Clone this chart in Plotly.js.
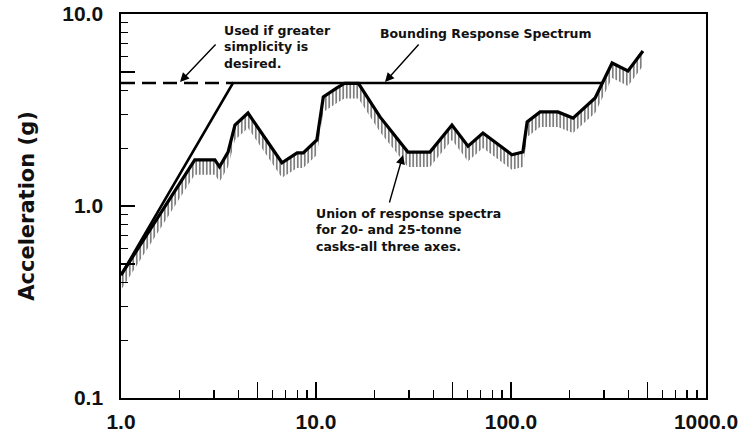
<!DOCTYPE html>
<html>
<head>
<meta charset="utf-8">
<script src="https://cdn.plot.ly/plotly-3.0.1.min.js"></script>
<style>html,body{margin:0;padding:0;background:#fff;}#chart{width:748px;height:436px;}</style>
</head>
<body>
<div id="chart"></div>
<script>
// Union of response spectra (frequency, acceleration g)
const unionFreq = [1, 2.39, 3.03, 3.2, 3.54, 3.84, 4.48, 6.69, 8.0, 8.6, 10.1, 10.9, 12.8, 14.0, 16.5, 21.3, 29.6, 38.4, 49.8, 60.2, 71.8, 101, 115, 121, 141, 174, 208, 270, 330, 398, 475];
const unionAcc  = [0.437, 1.74, 1.74, 1.6, 1.91, 2.64, 3.05, 1.68, 1.89, 1.89, 2.21, 3.70, 4.12, 4.35, 4.35, 2.91, 1.91, 1.91, 2.64, 2.05, 2.40, 1.85, 1.91, 2.74, 3.09, 3.09, 2.87, 3.65, 5.56, 5.05, 6.41];
// Bounding response spectrum
const boundFreq = [1, 3.75, 296];
const boundAcc  = [0.437, 4.37, 4.37];
// Simplified bound (dashed)
const simpleFreq = [1, 3.75];
const simpleAcc  = [4.37, 4.37];
// Axis tick labels
const xMajor = [1, 5, 10, 50, 100, 500, 1000];
const xMajorText = ['1.0', '', '10.0', '', '100.0', '', '1000.0'];
const yMajor = [0.1, 0.5, 1, 5, 10];
const yMajorText = ['0.1', '', '1.0', '', '10.0'];

// plot-area geometry helpers (pixel -> log axis coordinate for annotations)
const L = 121, R = 706, T = 14, B = 398;
const px2x = p => 3 * (p - L) / (R - L);
const py2y = p => -1 + 2 * (B - p) / (B - T);

function minorVals(lo, hi, skip) {
  const out = [];
  for (let d = lo; d < hi; d *= 10) {
    for (let k = 2; k <= 9; k++) if (!skip.includes(k)) out.push(k * d);
  }
  return out;
}

const hatchDepth = Math.pow(10, -15 / 192);
const hatchLow = unionAcc.map(v => v * hatchDepth);
const pad = '\u00a0\u00a0';

const traces = [
  {x: unionFreq, y: hatchLow, mode: 'lines', line: {width: 0, color: 'rgba(0,0,0,0)'}, hoverinfo: 'skip', showlegend: false},
  {x: unionFreq, y: unionAcc, mode: 'lines', fill: 'tonexty', fillcolor: 'rgba(0,0,0,0)',
   fillpattern: {shape: '|', fgcolor: '#666', bgcolor: 'rgba(255,255,255,0)', size: 3.5, solidity: 0.42},
   line: {color: '#000', width: 3.2}, showlegend: false},
  {x: boundFreq, y: boundAcc, mode: 'lines', line: {color: '#000', width: 2.6}, showlegend: false},
  {x: simpleFreq, y: simpleAcc, mode: 'lines', line: {color: '#000', width: 2.6, dash: '14px,7px'}, showlegend: false}
];

const tf = {family: 'DejaVu Sans, sans-serif', size: 12.5, color: '#111', weight: 'bold'};
function txt(s, xp, yp) {
  return {text: s, xref: 'x', yref: 'y', x: px2x(xp), y: py2y(yp), xanchor: 'left', yanchor: 'middle', align: 'left', showarrow: false, font: tf, borderpad: 0};
}
function arrow(hx, hy, tx, ty) {
  return {text: '', xref: 'x', yref: 'y', x: px2x(hx), y: py2y(hy), ax: tx - hx, ay: ty - hy,
          showarrow: true, arrowhead: 2, arrowsize: 1.3, arrowwidth: 1.4, arrowcolor: '#000'};
}

const tickFont = {family: 'Liberation Sans, Arial, sans-serif', size: 21, color: '#111', weight: 'bold'};

const layout = {
  width: 748, height: 436,
  margin: {l: L, r: 748 - R, t: T, b: 436 - B},
  paper_bgcolor: '#fff', plot_bgcolor: '#fff',
  showlegend: false,
  xaxis: {
    type: 'log', range: [0, 3], showgrid: false, zeroline: false, automargin: false,
    showline: true, linecolor: '#000', linewidth: 2, mirror: true,
    ticks: 'inside', ticklen: 16, tickwidth: 1.5, tickcolor: '#000',
    tickmode: 'array', tickvals: xMajor, ticktext: xMajorText,
    ticklabelstandoff: 4,
    tickfont: tickFont,
    minor: {tickmode: 'array', tickvals: minorVals(1, 1000, [5]), ticks: 'inside', ticklen: 8, tickwidth: 1.2, tickcolor: '#000', showgrid: false}
  },
  yaxis: {
    type: 'log', range: [-1, 1], showgrid: false, zeroline: false, automargin: false,
    showline: true, linecolor: '#000', linewidth: 2, mirror: true,
    ticks: 'inside', ticklen: 14, tickwidth: 1.5, tickcolor: '#000',
    tickmode: 'array', tickvals: yMajor, ticktext: yMajorText.map(t => t ? t + pad : t),
    tickfont: tickFont,
    minor: {tickmode: 'array', tickvals: minorVals(0.1, 10, [5]), ticks: 'inside', ticklen: 7, tickwidth: 1.2, tickcolor: '#000', showgrid: false},
    title: {text: 'Acceleration (g)', font: {family: 'DejaVu Sans, sans-serif', size: 21, color: '#111', weight: 'bold'}, standoff: 22}
  },
  annotations: [
    txt('Used if greater<br>simplicity is<br>desired.', 223, 47),
    txt('Bounding Response Spectrum', 379, 33),
    txt('Union of response spectra<br>for 20- and 25-tonne<br>casks-all three axes.', 315, 229.5),
    arrow(180, 82, 217, 43),
    arrow(385, 82, 420, 43),
    arrow(403, 155, 389, 204)
  ]
};

Plotly.newPlot('chart', traces, layout, {staticPlot: true, displayModeBar: false});
</script>
</body>
</html>
